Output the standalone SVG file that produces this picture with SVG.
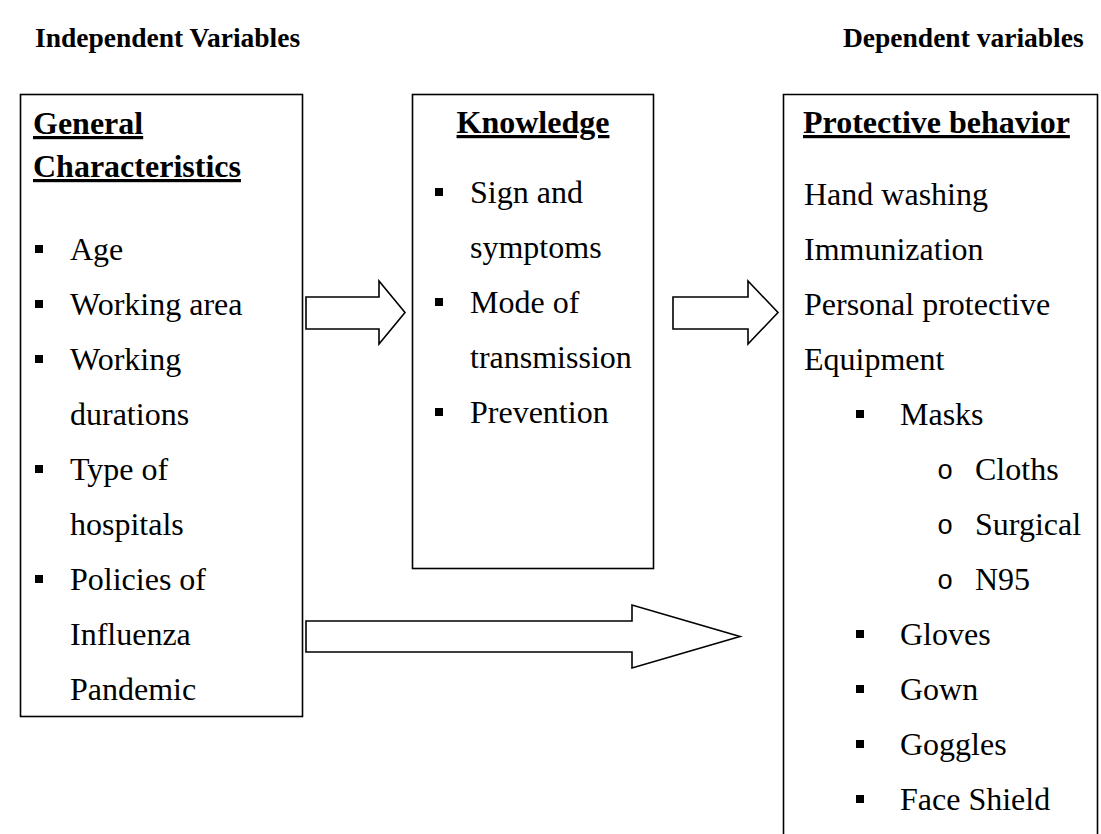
<svg xmlns="http://www.w3.org/2000/svg" width="1101" height="834" viewBox="0 0 1101 834">
<style>
.t{font-family:"Liberation Serif","Times New Roman",serif;font-size:32px;fill:#000}
.b{font-weight:bold}
.h{font-family:"Liberation Serif","Times New Roman",serif;font-size:27.5px;font-weight:bold;fill:#000}
.u{text-decoration:underline}
.o{font-family:"Liberation Mono","Courier New",monospace;font-size:27px;fill:#000}
.box{fill:#fff;stroke:#000;stroke-width:1.6}
.arr{fill:#fff;stroke:#000;stroke-width:1.6;stroke-linejoin:miter}
</style>
<defs>
<rect id="sq" width="8" height="8" fill="#000"/>
</defs>
<rect width="1101" height="834" fill="#fff"/>
<g id="titles">
<text class="h" x="35" y="47">Independent Variables</text>
<text class="h" x="843" y="47">Dependent variables</text>
</g>
<g id="general">
<rect class="box" x="20.5" y="94.5" width="282" height="622"/>
<text class="t b u" x="33" y="134">General</text>
<text class="t b u" x="33" y="177">Characteristics</text>
<use href="#sq" x="35" y="245"/><text class="t" x="70" y="260">Age</text>
<use href="#sq" x="35" y="300"/><text class="t" x="70" y="315">Working area</text>
<use href="#sq" x="35" y="355"/><text class="t" x="70" y="370">Working</text>
<text class="t" x="70" y="425">durations</text>
<use href="#sq" x="35" y="465"/><text class="t" x="70" y="480">Type of</text>
<text class="t" x="70" y="535">hospitals</text>
<use href="#sq" x="35" y="575"/><text class="t" x="70" y="590">Policies of</text>
<text class="t" x="70" y="645">Influenza</text>
<text class="t" x="70" y="700">Pandemic</text>
</g>
<g id="knowledge">
<rect class="box" x="412.5" y="94.5" width="241" height="474"/>
<text class="t b u" x="533" y="133" text-anchor="middle">Knowledge</text>
<use href="#sq" x="435" y="188"/><text class="t" x="470" y="203">Sign and</text>
<text class="t" x="470" y="258">symptoms</text>
<use href="#sq" x="435" y="298"/><text class="t" x="470" y="313">Mode of</text>
<text class="t" x="470" y="368">transmission</text>
<use href="#sq" x="435" y="408"/><text class="t" x="470" y="423">Prevention</text>
</g>
<g id="protective">
<path class="box" d="M783.5,834 V94.5 H1097.5 V834" fill="none"/>
<text class="t b u" x="803" y="133">Protective behavior</text>
<text class="t" x="804" y="205">Hand washing</text>
<text class="t" x="804" y="260">Immunization</text>
<text class="t" x="804" y="315">Personal protective</text>
<text class="t" x="804" y="370">Equipment</text>
<use href="#sq" x="856" y="410"/><text class="t" x="900" y="425">Masks</text>
<text class="o" x="937" y="479">o</text><text class="t" x="975" y="480">Cloths</text>
<text class="o" x="937" y="534">o</text><text class="t" x="975" y="535">Surgical</text>
<text class="o" x="937" y="589">o</text><text class="t" x="975" y="590">N95</text>
<use href="#sq" x="856" y="630"/><text class="t" x="900" y="645">Gloves</text>
<use href="#sq" x="856" y="685"/><text class="t" x="900" y="700">Gown</text>
<use href="#sq" x="856" y="740"/><text class="t" x="900" y="755">Goggles</text>
<use href="#sq" x="856" y="795"/><text class="t" x="900" y="810">Face Shield</text>
</g>
<g id="connectors">
<path class="arr" d="M306,297 H379 V281 L405,312.5 L379,344 V329 H306 Z"/>
<path class="arr" d="M673,297 H748 V281 L778,312.5 L748,344 V329 H673 Z"/>
<path class="arr" d="M306,621 H632 V605 L740,636.5 L632,668 V652 H306 Z"/>
</g>
</svg>
